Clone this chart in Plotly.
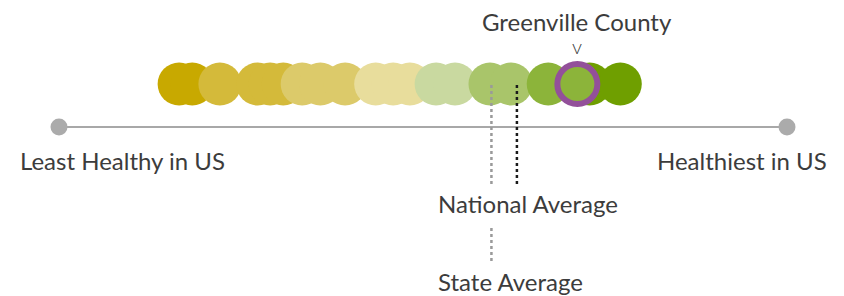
import plotly.graph_objects as go

# ---- data ----
county_scores = [16.5, 18.3, 22.1, 27.3, 29.0, 30.8, 33.4, 35.9, 39.3, 43.5,
                 45.9, 48.2, 51.8, 54.4, 59.2, 62.1, 67.2, 72.9, 77.1]
county_bins = [0, 0, 1, 1, 1, 1, 2, 2, 2, 3, 3, 3, 4, 4, 5, 5, 6, 7, 7]
bin_colors = ["#c8a900", "#d4ba3a", "#dcca6a", "#e8dd9c",
              "#c9d9a0", "#a9c56a", "#8cb43a", "#6f9f00"]
highlight_name = "Greenville County"
highlight_score = 71.2
highlight_bin = 6
state_average = 59.4
national_average = 62.9
scale_min, scale_max = 0, 100
end_labels = ["Least Healthy in US", "Healthiest in US"]

# ---- geometry (page body has an 8px margin) ----
OFF = 8
W, H = 844 - OFF, 296 - OFF
px_left, px_right = 59 - OFF, 787 - OFF
ppu = (px_right - px_left) / (scale_max - scale_min)
x_range = [scale_min - px_left / ppu, scale_min + (W - px_left) / ppu]

def Y(v):
    return v - OFF

def X(px):
    return scale_min + (px - OFF - px_left) / ppu

ROW_Y = Y(84)
AXIS_Y = Y(127)
FONT = "Lato, 'Open Sans', sans-serif"
TXT = "#3c3c3c"

fig = go.Figure()

# axis line
fig.add_trace(go.Scatter(x=[scale_min, scale_max], y=[AXIS_Y, AXIS_Y], mode="lines",
                         line=dict(color="#a8a8a8", width=2), hoverinfo="skip"))
fig.add_trace(go.Scatter(x=[scale_min, scale_max], y=[AXIS_Y, AXIS_Y], mode="markers",
                         marker=dict(color="#ababab", size=17), hoverinfo="skip"))

# county circles (drawn left to right)
fig.add_trace(go.Scatter(
    x=county_scores, y=[ROW_Y] * len(county_scores), mode="markers",
    marker=dict(size=43, color=[bin_colors[b] for b in county_bins], line=dict(width=0)),
    hoverinfo="x"))

# highlighted county
fig.add_trace(go.Scatter(
    x=[highlight_score], y=[ROW_Y], mode="markers",
    marker=dict(size=40, color=bin_colors[highlight_bin], line=dict(width=6, color="#93509a")),
    hoverinfo="x"))

# average lines
fig.add_trace(go.Scatter(x=[state_average, state_average], y=[Y(85), Y(186)], mode="lines",
                         line=dict(color="#9a9a9a", width=2.5, dash="dot"), hoverinfo="skip"))
fig.add_trace(go.Scatter(x=[state_average, state_average], y=[Y(228), Y(263)], mode="lines",
                         line=dict(color="#9a9a9a", width=2.5, dash="dot"), hoverinfo="skip"))
fig.add_trace(go.Scatter(x=[national_average, national_average], y=[Y(85), Y(186)], mode="lines",
                         line=dict(color="#1a1a1a", width=2.5, dash="dot"), hoverinfo="skip"))

def txt(x, y, s, size=24, anchor="center", weight=400):
    fig.add_annotation(x=x, y=y, text=s, showarrow=False, xanchor=anchor, yanchor="middle",
                       borderpad=0, font=dict(family=FONT, size=size, color=TXT, weight=weight))

txt(highlight_score, Y(21), highlight_name)
txt(highlight_score, Y(46), "v", size=20, weight=300)
txt(X(19), Y(160), end_labels[0], anchor="left")
txt(X(828), Y(160), end_labels[1], anchor="right")
txt(X(437), Y(203), "National Average", anchor="left")
txt(X(437), Y(281), "State Average", anchor="left")

fig.update_layout(
    width=W, height=H, margin=dict(l=0, r=0, t=0, b=0),
    paper_bgcolor="white", plot_bgcolor="white", showlegend=False,
    xaxis=dict(range=x_range, visible=False, fixedrange=True),
    yaxis=dict(range=[H, 0], visible=False, fixedrange=True),
)
fig.write_html("out.html")
